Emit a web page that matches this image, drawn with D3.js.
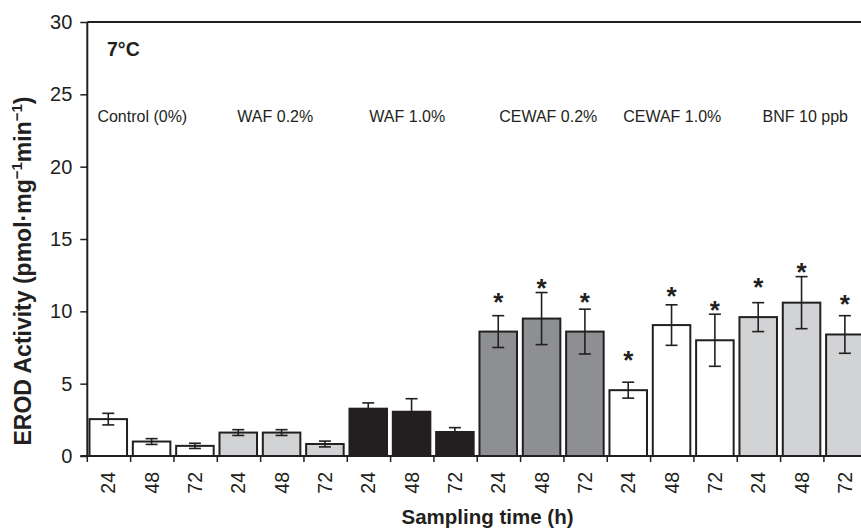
<!DOCTYPE html>
<html>
<head>
<meta charset="utf-8">
<script src="https://cdn.jsdelivr.net/npm/d3@7"></script>
<style>
  html, body { margin: 0; padding: 0; background: #fff; }
  svg { display: block; font-family: "Liberation Sans", Arial, sans-serif; }
</style>
</head>
<body>
<svg id="chart" width="861" height="529"></svg>
<script>
// ---- data ----
const groups = ["Control (0%)", "WAF 0.2%", "WAF 1.0%", "CEWAF 0.2%", "CEWAF 1.0%", "BNF 10 ppb"];
const times = ["24", "48", "72"];
const means = [2.55, 1.0, 0.7, 1.62, 1.62, 0.83, 3.27, 3.06, 1.66, 8.6, 9.5, 8.6, 4.55, 9.05, 8.0, 9.6, 10.6, 8.4];
const errors = [0.4, 0.2, 0.18, 0.2, 0.2, 0.2, 0.4, 0.9, 0.3, 1.1, 1.8, 1.55, 0.55, 1.4, 1.8, 1.0, 1.8, 1.3];
const starValues = [null, null, null, null, null, null, null, null, null, 11.06, 12.05, 11.06, 7.05, 11.47, 10.48, 12.09, 13.13, 10.9];
const groupFills = ["#ffffff", "#d1d3d4", "#231f20", "#8d8f92", "#ffffff", "#d1d3d4"];
const yTicks = [0, 5, 10, 15, 20, 25, 30];
const panelLabel = "7°C";

(function () {
// ---- layout ----
const svg = d3.select("#chart");
const mLeft = 87.3, mTop = 22, mBottom = 456;
const bandW = 43.33;
const n = groups.length * times.length;
const ink = "#231f20";
const labelShift = [-10, -7, -5, 6, 0, 3];

const rows = [];
groups.forEach((g, gi) => times.forEach((t, ti) => {
  const i = gi * times.length + ti;
  rows.push({ i, g, gi, t, mean: means[i], err: errors[i], star: starValues[i] });
}));

const x = d3.scaleBand().domain(d3.range(n)).range([mLeft, mLeft + n * bandW]).padding(0);
const y = d3.scaleLinear().domain([0, 30]).range([mBottom, mTop]);
const barX = d => x(d.i) + 2.2;
const barW = x.bandwidth() - 5.8;
const barC = d => barX(d) + barW / 2;

// top frame line
svg.append("line").attr("x1", mLeft).attr("x2", 861).attr("y1", y(30)).attr("y2", y(30))
  .attr("stroke", ink).attr("stroke-width", 2);

// bars
svg.append("g").selectAll("rect").data(rows).join("rect")
  .attr("x", barX)
  .attr("width", barW)
  .attr("y", d => y(d.mean))
  .attr("height", d => y(0) - y(d.mean))
  .attr("fill", d => groupFills[d.gi])
  .attr("stroke", ink).attr("stroke-width", 2);

// error bars
const eg = svg.append("g").attr("stroke", ink).attr("stroke-width", 1.6);
rows.forEach(d => {
  const cx = barC(d);
  eg.append("line").attr("x1", cx).attr("x2", cx).attr("y1", y(d.mean + d.err)).attr("y2", y(d.mean - d.err));
  [d.mean + d.err, d.mean - d.err].forEach(v => {
    eg.append("line").attr("x1", cx - 6).attr("x2", cx + 6).attr("y1", y(v)).attr("y2", y(v));
  });
});

// significance stars
svg.append("g").selectAll("text").data(rows.filter(d => d.star != null)).join("text")
  .attr("x", barC)
  .attr("y", d => y(d.star) + 15)
  .attr("text-anchor", "middle")
  .attr("font-size", 26).attr("font-weight", "bold").attr("fill", ink)
  .text("*");

// y axis
const yAxis = svg.append("g").attr("transform", `translate(${mLeft},0)`)
  .call(d3.axisLeft(y).tickValues(yTicks).tickSize(7).tickPadding(8).tickFormat(d3.format("d")));
yAxis.select(".domain").attr("stroke", ink).attr("stroke-width", 2).attr("d", `M0,${y(30)}V${y(0)}`);
yAxis.selectAll(".tick line").attr("stroke", ink).attr("stroke-width", 1.5);
yAxis.selectAll(".tick text").attr("font-size", 20).attr("fill", ink)
  .attr("font-family", "Liberation Sans, Arial, sans-serif");

// x axis line
svg.append("line").attr("x1", mLeft - 7).attr("x2", 861).attr("y1", mBottom).attr("y2", mBottom)
  .attr("stroke", ink).attr("stroke-width", 2);
// x ticks at band boundaries
svg.append("g").selectAll("line").data(d3.range(n + 1)).join("line")
  .attr("x1", i => mLeft + i * x.bandwidth()).attr("x2", i => mLeft + i * x.bandwidth())
  .attr("y1", mBottom).attr("y2", mBottom + 6)
  .attr("stroke", ink).attr("stroke-width", 1.5);
// x tick labels (rotated)
svg.append("g").selectAll("text").data(rows).join("text")
  .attr("transform", d => `translate(${x(d.i) + x.bandwidth() / 2 + 6.5},${mBottom + 16}) rotate(-90)`)
  .attr("text-anchor", "end")
  .attr("font-size", 19.5).attr("fill", ink)
  .text(d => d.t);

// group labels
svg.append("g").selectAll("text").data(groups).join("text")
  .attr("x", (g, gi) => x(gi * 3) + 1.5 * x.bandwidth() + labelShift[gi])
  .attr("y", 121.5)
  .attr("text-anchor", "middle")
  .attr("font-size", 16).attr("fill", ink)
  .text(g => g);

// panel label
svg.append("text").attr("x", 107).attr("y", 56)
  .attr("font-size", 19.5).attr("font-weight", "bold").attr("fill", ink)
  .text(panelLabel);

// axis titles
svg.append("text").attr("x", (400 + 575) / 2).attr("y", 524)
  .attr("text-anchor", "middle").attr("font-size", 20.5).attr("font-weight", "bold").attr("fill", ink)
  .text("Sampling time (h)");

const yt = svg.append("text")
  .attr("transform", `translate(31,271) rotate(-90)`)
  .attr("text-anchor", "middle").attr("font-size", 23).attr("font-weight", "bold").attr("fill", ink);
yt.append("tspan").text("EROD Activity (pmol·mg");
yt.append("tspan").attr("dy", -9).attr("font-size", 15).text("−1");
yt.append("tspan").attr("dy", 9).text("min");
yt.append("tspan").attr("dy", -9).attr("font-size", 15).text("−1");
yt.append("tspan").attr("dy", 9).text(")");
})();
</script>
</body>
</html>
